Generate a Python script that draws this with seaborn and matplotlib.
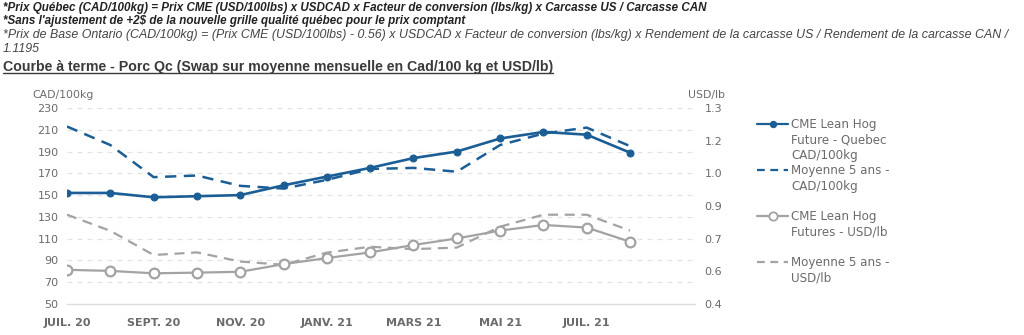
import matplotlib
matplotlib.use("Agg")
import matplotlib.pyplot as plt
from matplotlib.lines import Line2D
import seaborn as sns
import pandas as pd
import numpy as np

# ---------------- data ----------------
months = ["JUIL. 20", "AOÛT 20", "SEPT. 20", "OCT. 20", "NOV. 20", "DÉC. 20",
          "JANV. 21", "FÉVR. 21", "MARS 21", "AVR. 21", "MAI 21", "JUIN 21",
          "JUIL. 21", "AOÛT 21"]
tick_labels = ["JUIL. 20", "", "SEPT. 20", "", "NOV. 20", "", "JANV. 21", "",
               "MARS 21", "", "MAI 21", "", "JUIL. 21", "", ""]
quebec_cad = [152, 152, 148, 149, 150, 159, 167, 175, 184, 190, 202, 208, 205.5, 189]
avg5_cad = [213, 196, 166.5, 168, 158.5, 156, 164, 174, 175, 171.5, 196, 206.5, 212, 195]
cme_usd = [0.557, 0.552, 0.541, 0.544, 0.548, 0.583, 0.611, 0.637, 0.671, 0.701,
           0.737, 0.763, 0.751, 0.686]
avg5_usd = [0.81, 0.736, 0.625, 0.637, 0.595, 0.58, 0.636, 0.663, 0.652, 0.659,
            0.755, 0.81, 0.81, 0.737]
left_ticks = [50, 70, 90, 110, 130, 150, 170, 190, 210, 230]
right_ticks = [0.4, 0.55, 0.7, 0.85, 1.0, 1.15, 1.3]
right_tick_labels = ["0.4", "0.6", "0.7", "0.9", "1.0", "1.2", "1.3"]

legend_labels = ["CME Lean Hog\nFuture - Quebec\nCAD/100kg",
                 "Moyenne 5 ans -\nCAD/100kg",
                 "CME Lean Hog\nFutures - USD/lb",
                 "Moyenne 5 ans -\nUSD/lb"]

header_lines = [
    "*Prix Québec (CAD/100kg) = Prix CME (USD/100lbs) x USDCAD x Facteur de conversion (lbs/kg) x Carcasse US / Carcasse CAN",
    "*Sans l'ajustement de +2$ de la nouvelle grille qualité québec pour le prix comptant",
    "*Prix de Base Ontario (CAD/100kg) = (Prix CME (USD/100lbs) - 0.56) x USDCAD x Facteur de conversion (lbs/kg) x Rendement de la carcasse US / Rendement de la carcasse CAN /",
    "1.1195",
]
title = "Courbe à terme - Porc Qc (Swap sur moyenne mensuelle en Cad/100 kg et USD/lb)"

df = pd.DataFrame({
    "x": np.arange(len(months)),
    "month": months,
    "quebec_cad": quebec_cad,
    "avg5_cad": avg5_cad,
    "cme_usd": cme_usd,
    "avg5_usd": avg5_usd,
})

# ---------------- style ----------------
sns.set_theme(style="white")
plt.rcParams["font.family"] = ["DejaVu Sans"]

BLUE = "#1b5e96"
GRAY = "#a3a3a3"
TXT = "#6b6b6b"

fig = plt.figure(figsize=(10.24, 3.35), dpi=100)
W, H = 1024, 335
ax = fig.add_axes([67 / W, 1 - 304 / H, (695 - 67) / W, (304 - 108) / H])
ax2 = ax.twinx()

# blue series (left axis)
sns.lineplot(data=df, x="x", y="quebec_cad", ax=ax, color=BLUE, lw=1.9,
             marker="o", markersize=5, markeredgecolor=BLUE, markerfacecolor=BLUE)
sns.lineplot(data=df, x="x", y="avg5_cad", ax=ax, color=BLUE, lw=1.8,
             linestyle=(0, (4.5, 3)))
# gray series (right axis)
sns.lineplot(data=df, x="x", y="cme_usd", ax=ax2, color=GRAY, lw=1.6,
             marker="o", markersize=7, markerfacecolor="white",
             markeredgecolor=GRAY, markeredgewidth=1.6, zorder=3)
sns.lineplot(data=df, x="x", y="avg5_usd", ax=ax2, color=GRAY, lw=1.6,
             linestyle=(0, (4.5, 3)))

# axes formatting
ax.set_xlim(0, 14.5)
ax.set_ylim(50, 230)
ax.set_yticks(left_ticks)
ax.set_xticks(range(len(tick_labels)))
ax.set_xticklabels(tick_labels)
ax.set_xlabel("")
ax.set_ylabel("")
ax2.set_ylim(0.4, 1.3)
ax2.set_yticks(right_ticks)
ax2.set_yticklabels(right_tick_labels)
ax2.set_ylabel("")

for g in left_ticks[1:]:
    ax.axhline(g, color="#e3e3e3", lw=0.9, linestyle=(0, (4, 4)), zorder=0)

for a in (ax, ax2):
    for s in a.spines.values():
        s.set_visible(False)
ax.spines["bottom"].set_visible(True)
ax.spines["bottom"].set_color("#dddddd")
ax.spines["bottom"].set_linewidth(1.0)

ax.tick_params(axis="x", colors="#dddddd", length=5, width=1.0, direction="out",
               labelcolor=TXT, labelsize=8, pad=5)
ax.tick_params(axis="y", length=0, labelcolor=TXT, labelsize=8, pad=6)
ax2.tick_params(axis="y", length=0, labelcolor=TXT, labelsize=8, pad=7)
for lab in ax.get_xticklabels():
    lab.set_fontweight("bold")

fig.text(32 / W, 1 - 95 / H, "CAD/100kg", color=TXT, fontsize=7.8, va="center", ha="left")
fig.text(688 / W, 1 - 95 / H, "USD/lb", color=TXT, fontsize=7.8, va="center", ha="left")

# legend drawn manually
leg_items = [
    (BLUE, "-", "o", BLUE, 124, legend_labels[0]),
    (BLUE, (0, (3.5, 2.5)), None, None, 170, legend_labels[1]),
    (GRAY, "-", "o", "white", 216, legend_labels[2]),
    (GRAY, (0, (3.5, 2.5)), None, None, 262, legend_labels[3]),
]
for col, ls, mk, mfc, yy, lab in leg_items:
    y = 1 - yy / H
    fig.add_artist(Line2D([757 / W, 788 / W], [y, y], color=col, lw=1.6, linestyle=ls,
                          transform=fig.transFigure))
    if mk:
        fig.add_artist(Line2D([772.5 / W], [y], color=col, marker=mk,
                              markersize=4 if mfc == BLUE else 6,
                              markerfacecolor=mfc, markeredgecolor=col,
                              markeredgewidth=1.3, transform=fig.transFigure))
    fig.text(791 / W, y + 6 / H, lab, color=TXT, fontsize=8.6, va="top", ha="left",
             linespacing=1.25)

# header text
hfam = ["Liberation Sans", "DejaVu Sans"]
fig.text(3 / W, 1 - 10.5 / H, header_lines[0], fontsize=8.38, fontweight="bold",
         fontstyle="italic", color="#222222", va="baseline", ha="left", family=hfam)
fig.text(3 / W, 1 - 24 / H, header_lines[1], fontsize=8.38, fontweight="bold",
         fontstyle="italic", color="#222222", va="baseline", ha="left", family=hfam)
fig.text(3 / W, 1 - 38 / H, header_lines[2], fontsize=8.93,
         fontstyle="italic", color="#444444", va="baseline", ha="left", family=hfam)
fig.text(3 / W, 1 - 52.5 / H, header_lines[3], fontsize=8.93,
         fontstyle="italic", color="#444444", va="baseline", ha="left", family=hfam)
t = fig.text(3 / W, 1 - 71 / H, title, fontsize=10.2, fontweight="bold",
             color="#3a3a3a", va="baseline", ha="left", family=hfam)

fig.canvas.draw()
bb = t.get_window_extent(renderer=fig.canvas.get_renderer())
uy = (1 - 73 / H)
fig.add_artist(Line2D([bb.x0 / W, bb.x1 / W], [uy, uy], color="#3a3a3a", lw=1.0,
                      transform=fig.transFigure))

fig.savefig("out.png", dpi=100)
